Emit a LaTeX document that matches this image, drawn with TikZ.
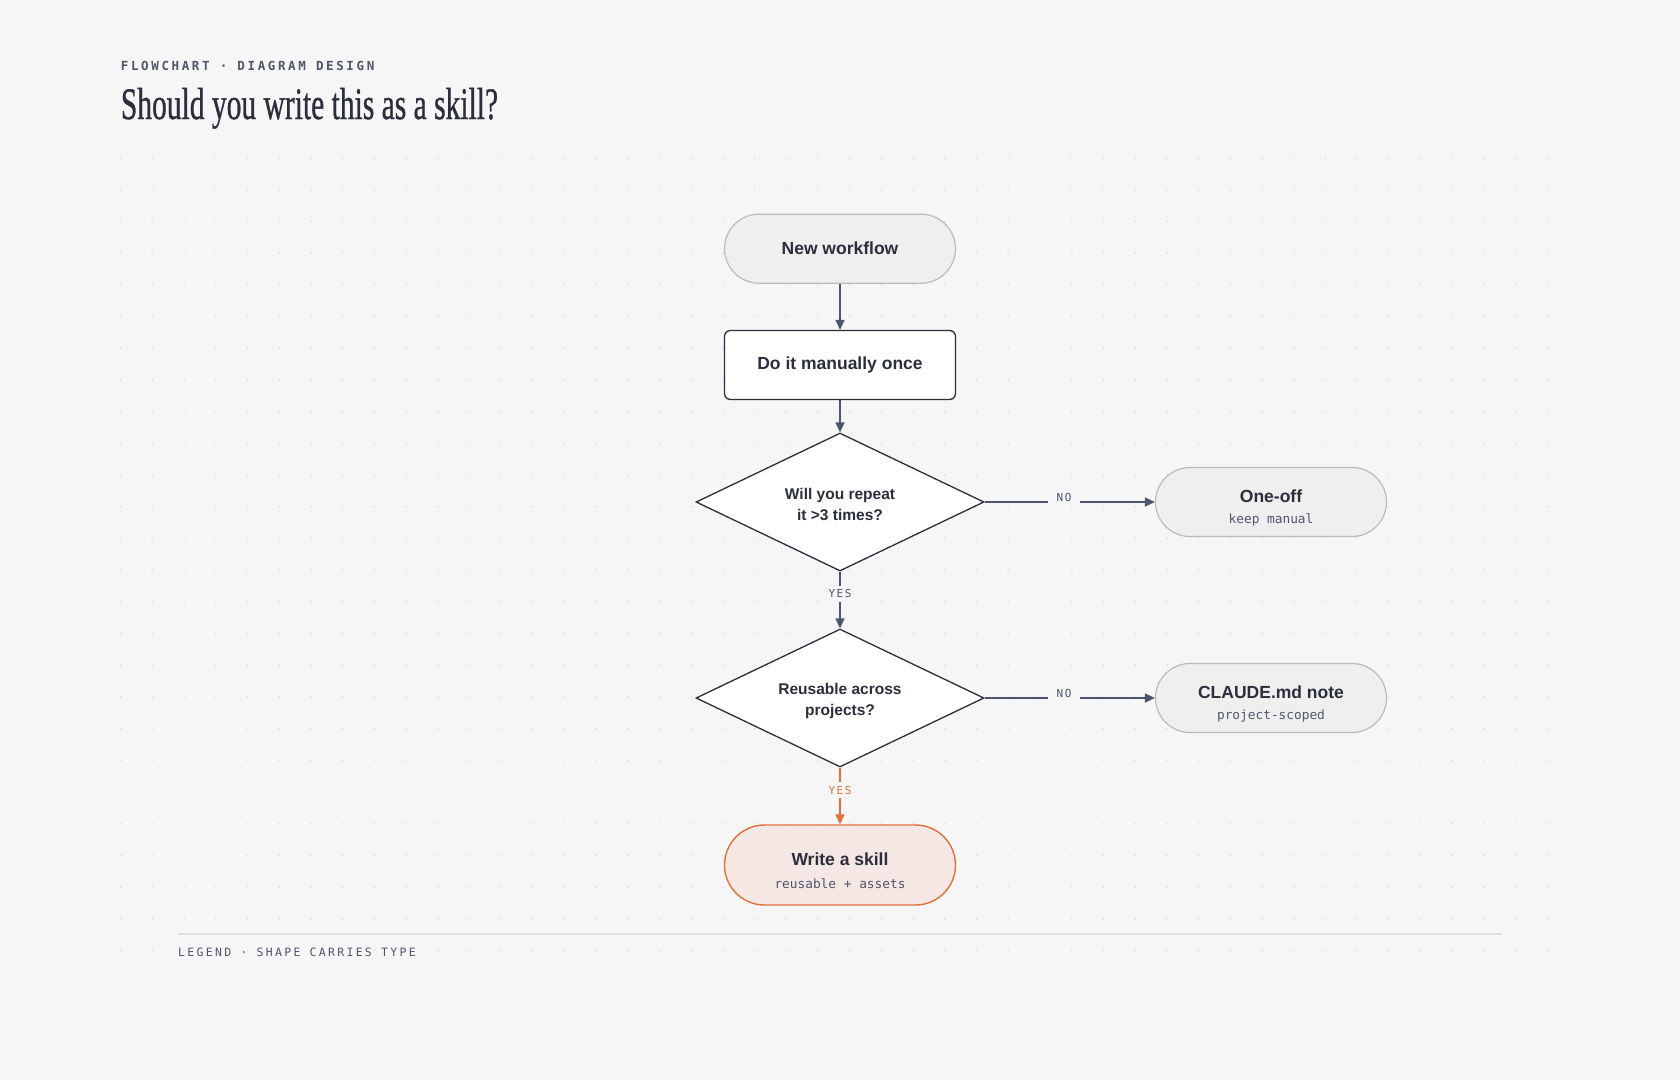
\documentclass[tikz,border=0pt]{standalone}
\usepackage{fontspec}
\setmainfont{Liberation Sans}
\newfontfamily\seriffont[FakeBold=0.9]{Liberation Serif}
\newfontfamily\monofont{DejaVu Sans Mono}
\newfontfamily\headmono[LetterSpace=21]{DejaVu Sans Mono}
\newfontfamily\legmono[LetterSpace=20]{DejaVu Sans Mono}
\newfontfamily\labmono[LetterSpace=14]{DejaVu Sans Mono}
\usetikzlibrary{shapes.geometric,arrows.meta}
\definecolor{bg}{HTML}{F6F6F6}
\definecolor{dotc}{HTML}{E2E2E4}
\definecolor{ink}{HTML}{2B2E3B}
\definecolor{slate}{HTML}{4A5670}
\definecolor{subink}{HTML}{4F566A}
\definecolor{grayfill}{HTML}{EFEFEF}
\definecolor{grayline}{HTML}{BBBBBB}
\definecolor{orange}{HTML}{E36F3A}
\definecolor{orangefill}{HTML}{F5E7E4}
\definecolor{rule}{HTML}{E0E0E0}
\tikzset{
  mainfont/.style={font=\fontsize{17.5}{21}\selectfont\bfseries, text=ink},
  terminal/.style={rectangle, rounded corners=34.5pt, minimum width=231pt, minimum height=69pt,
    fill=grayfill, draw=grayline, line width=1.2pt, align=center, inner sep=0pt, mainfont},
  process/.style={rectangle, rounded corners=6pt, minimum width=231pt, minimum height=69pt,
    fill=white, draw=ink, line width=1.3pt, align=center, inner sep=0pt, mainfont},
  decision/.style={diamond, aspect=2.09, minimum width=288pt, minimum height=138pt,
    fill=white, draw=ink, line width=1.3pt, align=center, inner sep=0pt,
    font=\fontsize{15.5}{21}\selectfont\bfseries, text=ink},
  outcome/.style={terminal},
  skillbox/.style={terminal, rounded corners=40pt, minimum height=80pt, fill=orangefill, draw=orange, line width=1.4pt},
  conn/.style={draw=slate, line width=1.4pt, -{Triangle[length=10pt,width=9pt]}},
  hotconn/.style={draw=orange, line width=1.4pt, -{Triangle[length=10pt,width=9pt]}},
  lab/.style={fill=bg, inner xsep=9pt, inner ysep=4pt, font=\labmono\fontsize{11}{13}\selectfont, text=slate},
  hotlab/.style={lab, text=orange},
}
\newcommand{\subtxt}[1]{{\monofont\fontsize{12.8}{15}\selectfont\mdseries\color{subink}#1}}
\newcommand{\topstrut}[1]{\rule{0pt}{#1}}
\begin{document}
\begin{tikzpicture}[x=1pt,y=-1pt]
\useasboundingbox (0,0) rectangle (1680,1080);
\fill[bg] (0,0) rectangle (1680,1080);
% dot grid
\foreach \i in {0,...,45}{
  \foreach \j in {0,...,25}{
    \fill[dotc] (120.7+\i*31.7, 158+\j*31.7) circle (1.1pt);
  }
}
% header
\node[anchor=base west, inner sep=0pt, text=subink, font=\headmono\fontsize{12.5}{14}\selectfont\bfseries] (kicker) at (120.7,70.7) {FLOWCHART · DIAGRAM DESIGN};
\node[anchor=base west, inner sep=0pt, text=ink, font=\seriffont\fontsize{45}{50}\selectfont] (title) at (120.7,119) {\scalebox{0.656}[1]{Should you write this as a skill?}};
% nodes
\node[terminal] (start) at (840,248.7) {New workflow};
\node[process] (manual) at (840,365) {Do it manually once};
\node[decision] (q1) at (840,502) {\topstrut{16pt}Will you repeat\\it >3 times?};
\node[outcome] (oneoff) at (1271,502) {\topstrut{24.5pt}One-off\\[-0.5pt]\subtxt{keep manual}};
\node[decision] (q2) at (840,698) {\topstrut{16.5pt}Reusable across\\projects?};
\node[outcome] (claude) at (1271,698) {\topstrut{24.5pt}CLAUDE.md note\\[-0.5pt]\subtxt{project-scoped}};
\node[skillbox] (skill) at (840,865) {\topstrut{24.5pt}Write a skill\\[2pt]\subtxt{reusable + assets}};
% connectors
\draw[conn] (start) -- (manual);
\draw[conn] (manual) -- (q1);
\draw[conn] (q1) -- node[lab, pos=0.466, yshift=4.3pt] (no1) {NO} (oneoff);
\draw[conn] (q1) -- node[lab, pos=0.39] (yes1) {YES} (q2);
\draw[conn] (q2) -- node[lab, pos=0.466, yshift=4.3pt] (no2) {NO} (claude);
\draw[hotconn] (q2) -- node[hotlab, pos=0.40] (yes2) {YES} (skill);
% legend
\coordinate (ruleL) at (178,934);
\coordinate (ruleR) at (1502,934);
\draw[rule, line width=1.2pt] (ruleL) -- (ruleR);
\node[anchor=base west, inner sep=0pt, text=subink, font=\legmono\fontsize{11.5}{13}\selectfont] (legend) at (178,956.5) {LEGEND · SHAPE CARRIES TYPE};
\end{tikzpicture}
\end{document}
